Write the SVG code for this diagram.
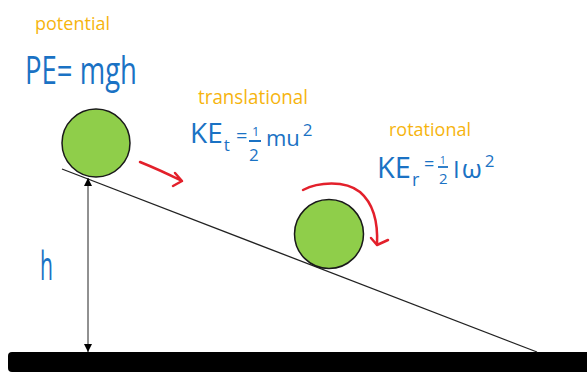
<svg xmlns="http://www.w3.org/2000/svg" width="587" height="372" viewBox="0 0 587 372">
<defs>
<style>
.lbl{font-family:"Open Sans","Liberation Sans",sans-serif;fill:#f6b40e;}
.eq{font-family:"Open Sans","Liberation Sans",sans-serif;fill:#1a72c4;}
.ball{fill:#8fce4a;stroke:#1a1a1a;stroke-width:1.5;}
.red{fill:none;stroke:#e3202b;stroke-width:2.5;stroke-linecap:round;stroke-linejoin:round;}
</style>
<marker id="ah" viewBox="0 0 10 10" refX="10" refY="5" markerWidth="8" markerHeight="8" orient="auto-start-reverse" markerUnits="userSpaceOnUse">
<path d="M0,0 L10,5 L0,10 z" fill="#000"/>
</marker>
</defs>
<rect width="587" height="372" fill="#fff"/>
<g id="ground"><rect x="8" y="352" width="600" height="20" rx="4" fill="#000"/></g>
<g id="incline"><line x1="62" y1="169" x2="537" y2="352" stroke="#222" stroke-width="1.3"/></g>
<g id="connectors">
<line x1="88" y1="178" x2="88" y2="352" stroke="#222" stroke-width="1" marker-start="url(#ah)" marker-end="url(#ah)"/>
<path class="red" d="M140,162 Q160,170 182,181 M175,173 L182,181 L173,186"/>
<path class="red" d="M303,190 C318,182 345,180 360,192 C374,204 378,225 377,245 M371,238 L377,245 L388,240"/>
</g>
<g id="ball1"><circle class="ball" cx="96" cy="143" r="34"/></g>
<g id="ball2"><circle class="ball" cx="329" cy="234" r="34.5"/></g>
<g id="potential">
<text class="lbl" x="35" y="30" font-size="19" textLength="75" lengthAdjust="spacingAndGlyphs">potential</text>
<text class="eq" x="25" y="84" font-size="38" textLength="112" lengthAdjust="spacingAndGlyphs">PE= mgh</text>
</g>
<g id="translational">
<text class="lbl" x="198" y="104" font-size="20" textLength="110" lengthAdjust="spacingAndGlyphs">translational</text>
<text class="eq" x="190" y="143" font-size="28">KE<tspan font-size="17" dy="8" dx="1">t</tspan></text>
<text class="eq" x="236" y="143" font-size="20">=</text>
<text class="eq" x="252" y="136" font-size="13">1</text>
<line x1="249" y1="141" x2="261" y2="141" stroke="#1a72c4" stroke-width="2"/>
<text class="eq" x="249" y="161" font-size="17">2</text>
<text class="eq" x="266" y="146" font-size="22">mu<tspan font-size="17" dy="-10" dx="3">2</tspan></text>
</g>
<g id="rotational">
<text class="lbl" x="389" y="136" font-size="19" textLength="82" lengthAdjust="spacingAndGlyphs">rotational</text>
<text class="eq" x="377" y="178" font-size="29">KE<tspan font-size="18" dy="8" dx="1">r</tspan></text>
<text class="eq" x="424" y="170" font-size="18">=</text>
<text class="eq" x="440" y="164" font-size="10">1</text>
<line x1="438" y1="167" x2="448" y2="167" stroke="#1a72c4" stroke-width="1.8"/>
<text class="eq" x="439" y="184" font-size="15">2</text>
<text class="eq" x="453" y="178" font-size="24">I<tspan font-size="26" dx="2">ω</tspan><tspan font-size="17" dy="-11" dx="3">2</tspan></text>
</g>
<g id="height">
<text class="eq" x="40" y="280" font-size="40" textLength="13" lengthAdjust="spacingAndGlyphs">h</text>
</g>
</svg>
